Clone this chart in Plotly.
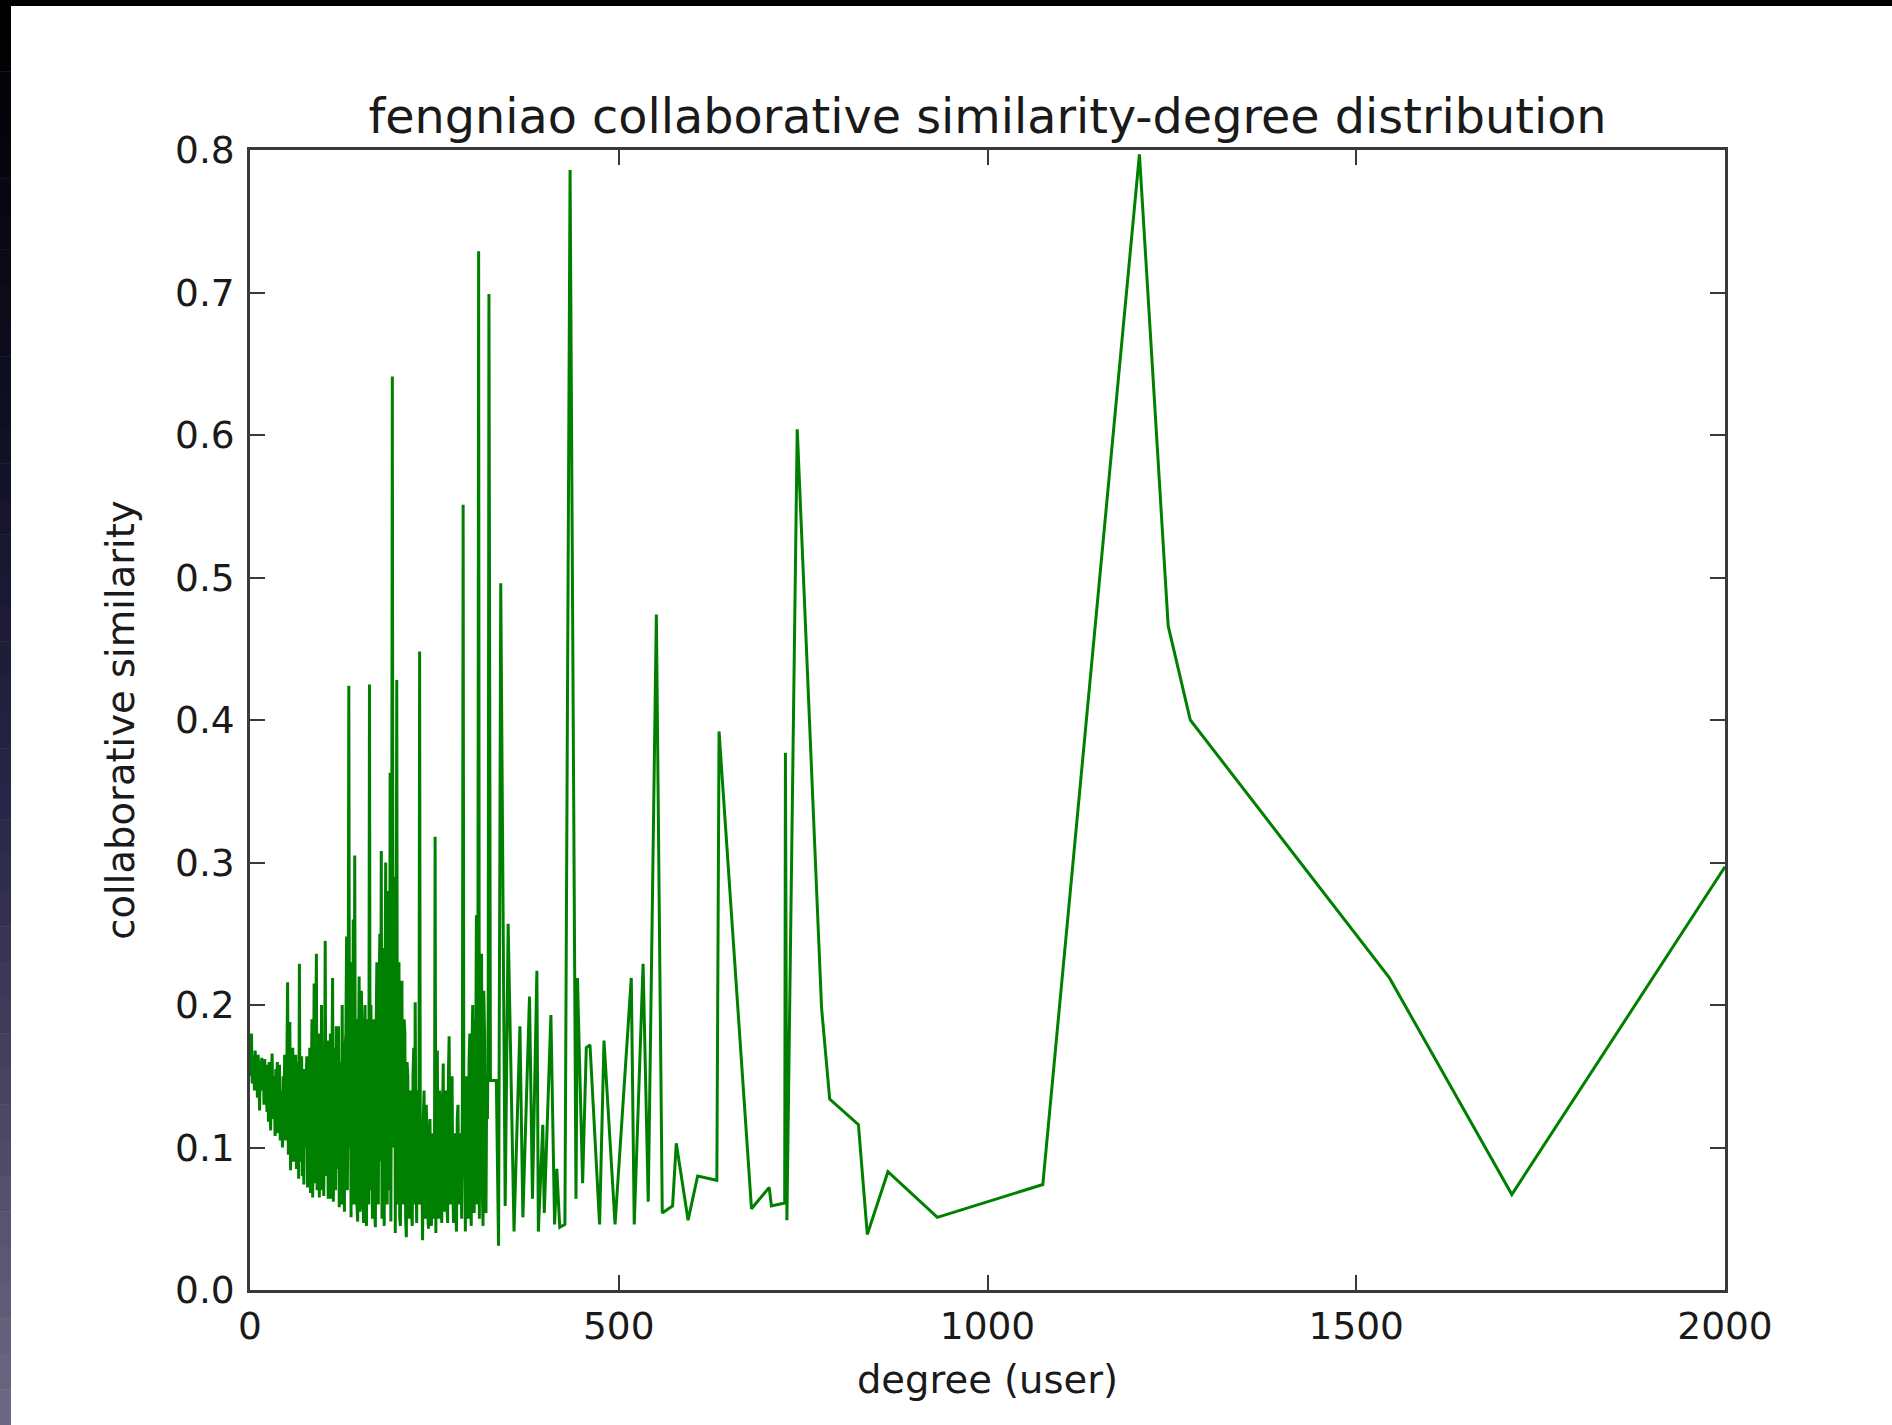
import plotly.graph_objects as go

# ---------------- data ----------------
# dense low-degree part (one value per degree)
dense_degree = [
    0, 1, 2, 3, 4, 5, 6, 7, 8, 9,
    10, 11, 12, 13, 14, 15, 16, 17, 18, 19,
    20, 21, 22, 23, 24, 25, 26, 27, 28, 29,
    30, 31, 32, 33, 34, 35, 36, 37, 38, 39,
    40, 41, 42, 43, 44, 45, 46, 47, 48, 49,
    50, 51, 52, 53, 54, 55, 56, 57, 58, 59,
    60, 61, 62, 63, 64, 65, 66, 67, 68, 69,
    70, 71, 72, 73, 74, 75, 76, 77, 78, 79,
    80, 81, 82, 83, 84, 85, 86, 87, 88, 89,
    90, 91, 92, 93, 94, 95, 96, 97, 98, 99,
    100, 101, 102, 103, 104, 105, 106, 107, 108, 109,
    110, 111, 112, 113, 114, 115, 116, 117, 118, 119,
    120, 121, 122, 123, 124, 125, 126, 127, 128, 129,
    130, 131, 132, 133, 134, 135, 136, 137, 138, 139,
    140, 141, 142, 143, 144, 145, 146, 147, 148, 149,
    150, 151, 152, 153, 154, 155, 156, 157, 158, 159,
    160, 161, 162, 163, 164, 165, 166, 167, 168, 169,
    170, 171, 172, 173, 174, 175, 176, 177, 178, 179,
    180, 181, 182, 183, 184, 185, 186, 187, 188, 189,
    190, 191, 192, 193, 194, 195, 196, 197, 198, 199,
    200, 201, 202, 203, 204, 205, 206, 207, 208, 209,
    210, 211, 212, 213, 214, 215, 216, 217, 218, 219,
    220, 221, 222, 223, 224, 225, 226, 227, 228, 229,
    230, 231, 232, 233, 234, 235, 236, 237, 238, 239,
    240, 241, 242, 243, 244, 245, 246, 247, 248, 249,
    250, 251, 252, 253, 254, 255, 256, 257, 258, 259,
    260, 261, 262, 263, 264, 265, 266, 267, 268, 269,
    270, 271, 272, 273, 274, 275, 276, 277, 278, 279,
    280, 281, 282, 283, 284, 285, 286, 287, 288, 289,
    290, 291, 292, 293, 294, 295, 296, 297, 298, 299,
    300, 301, 302, 303, 304, 305, 306, 307, 308, 309,
    310, 311, 312, 313, 314, 315, 316, 317, 318, 319,
    320, 321, 322, 323,
]
dense_similarity = [
    0.175, 0.150, 0.180, 0.145, 0.165, 0.160, 0.140, 0.168, 0.150, 0.162,
    0.135, 0.165, 0.155, 0.126, 0.160, 0.150, 0.163, 0.140, 0.158, 0.130,
    0.162, 0.140, 0.150, 0.125, 0.158, 0.118, 0.160, 0.135, 0.112, 0.150,
    0.166, 0.120, 0.150, 0.140, 0.108, 0.155, 0.125, 0.160, 0.110, 0.145,
    0.158, 0.105, 0.140, 0.130, 0.100, 0.150, 0.120, 0.165, 0.105, 0.140,
    0.160, 0.216, 0.095, 0.150, 0.188, 0.084, 0.140, 0.110, 0.170, 0.090,
    0.150, 0.100, 0.165, 0.085, 0.130, 0.160, 0.078, 0.229, 0.090, 0.140,
    0.164, 0.080, 0.120, 0.074, 0.155, 0.100, 0.140, 0.164, 0.072, 0.150,
    0.090, 0.170, 0.068, 0.130, 0.190, 0.065, 0.140, 0.215, 0.075, 0.160,
    0.236, 0.070, 0.130, 0.180, 0.065, 0.150, 0.090, 0.200, 0.070, 0.160,
    0.066, 0.130, 0.245, 0.080, 0.150, 0.175, 0.064, 0.140, 0.090, 0.180,
    0.064, 0.150, 0.219, 0.062, 0.120, 0.170, 0.070, 0.185, 0.085, 0.150,
    0.185, 0.058, 0.130, 0.160, 0.060, 0.200, 0.090, 0.150, 0.055, 0.170,
    0.180, 0.248, 0.070, 0.150, 0.424, 0.100, 0.200, 0.051, 0.230, 0.080,
    0.260, 0.060, 0.305, 0.090, 0.190, 0.060, 0.048, 0.160, 0.220, 0.055,
    0.060, 0.210, 0.180, 0.070, 0.047, 0.150, 0.200, 0.060, 0.045, 0.190,
    0.150, 0.060, 0.425, 0.070, 0.200, 0.120, 0.050, 0.160, 0.190, 0.055,
    0.044, 0.180, 0.230, 0.070, 0.060, 0.200, 0.250, 0.090, 0.308, 0.050,
    0.240, 0.100, 0.045, 0.200, 0.300, 0.080, 0.060, 0.260, 0.280, 0.070,
    0.363, 0.048, 0.200, 0.641, 0.100, 0.240, 0.290, 0.040, 0.180, 0.428,
    0.060, 0.200, 0.230, 0.050, 0.045, 0.180, 0.217, 0.060, 0.070, 0.190,
    0.180, 0.050, 0.037, 0.160, 0.150, 0.060, 0.050, 0.140, 0.125, 0.055,
    0.045, 0.150, 0.170, 0.060, 0.202, 0.090, 0.047, 0.130, 0.140, 0.060,
    0.448, 0.060, 0.110, 0.080, 0.035, 0.120, 0.140, 0.060, 0.050, 0.130,
    0.110, 0.055, 0.043, 0.100, 0.120, 0.060, 0.045, 0.110, 0.100, 0.050,
    0.060, 0.318, 0.040, 0.120, 0.168, 0.070, 0.050, 0.140, 0.130, 0.060,
    0.047, 0.120, 0.159, 0.070, 0.055, 0.140, 0.120, 0.060, 0.047, 0.150,
    0.178, 0.080, 0.060, 0.130, 0.150, 0.070, 0.047, 0.110, 0.100, 0.055,
    0.041, 0.120, 0.130, 0.070, 0.060, 0.110, 0.090, 0.050, 0.140, 0.551,
    0.079, 0.120, 0.041, 0.100, 0.150, 0.060, 0.050, 0.160, 0.180, 0.070,
    0.045, 0.170, 0.200, 0.080, 0.054, 0.190, 0.150, 0.263, 0.060, 0.200,
    0.729, 0.050, 0.200, 0.150, 0.236, 0.070, 0.045, 0.210, 0.180, 0.060,
    0.054, 0.150, 0.120, 0.200,
]

# sparse high-degree part
sparse_degree = [324, 326, 334, 337, 340, 346, 350, 358, 366, 370,
                 379, 383, 389, 391, 397, 399, 408, 413, 416, 420,
                 427, 434, 442, 444, 451, 456, 461, 474, 480, 495,
                 517, 521, 533, 540, 551, 559, 573, 578, 594, 607,
                 633, 636, 680, 704, 707, 725, 726, 728, 742, 775,
                 786, 825, 837, 865, 932, 1075, 1206, 1245, 1275, 1545,
                 1711, 2000]
sparse_similarity = [0.699, 0.147, 0.147, 0.031, 0.496, 0.059, 0.257, 0.041, 0.185, 0.051,
                     0.206, 0.064, 0.224, 0.041, 0.116, 0.054, 0.193, 0.046, 0.085, 0.044,
                     0.046, 0.786, 0.064, 0.219, 0.075, 0.170, 0.172, 0.046, 0.175, 0.046,
                     0.219, 0.046, 0.229, 0.062, 0.474, 0.054, 0.059, 0.103, 0.049, 0.080,
                     0.077, 0.392, 0.057, 0.072, 0.059, 0.061, 0.377, 0.049, 0.604, 0.198,
                     0.134, 0.116, 0.039, 0.083, 0.051, 0.074, 0.797, 0.466, 0.400, 0.219,
                     0.067, 0.297]

x_ticks = [0, 500, 1000, 1500, 2000]
x_tick_labels = ["0", "500", "1000", "1500", "2000"]
y_ticks = [0.0, 0.1, 0.2, 0.3, 0.4, 0.5, 0.6, 0.7, 0.8]
y_tick_labels = ["0.0", "0.1", "0.2", "0.3", "0.4", "0.5", "0.6", "0.7", "0.8"]

title_text = "fengniao collaborative similarity-degree distribution"
x_title = "degree (user)"
y_title = "collaborative similarity"

degree = dense_degree + sparse_degree
similarity = dense_similarity + sparse_similarity

# ---------------- figure ----------------
W, H = 1892, 1425
L, R, T, B = 250, 1725, 150, 1290
FONT = "DejaVu Sans"
TXT = "#1a1a1a"
AX = "#3a3a3a"

fig = go.Figure()
fig.add_trace(go.Scatter(
    x=degree, y=similarity, mode="lines",
    line=dict(color="#008000", width=3, simplify=False),
    showlegend=False, hoverinfo="x+y",
))

axis_common = dict(
    showline=True, linecolor=AX, linewidth=2.6, mirror="ticks",
    ticks="inside", ticklen=15, tickwidth=1.8, tickcolor=AX,
    showgrid=False, zeroline=False,
    tickfont=dict(family=FONT, size=37.5, color=TXT),
)

fig.update_layout(
    width=W, height=H,
    margin=dict(l=L, r=W - R, t=T, b=H - B, pad=0),
    paper_bgcolor="white", plot_bgcolor="white",
    title=dict(text=title_text, x=0.5, xref="paper", xanchor="center",
               y=1 - 116 / H, yref="container", yanchor="middle",
               font=dict(family=FONT, size=47.7, color=TXT)),
    xaxis=dict(range=[0, 2000], tickmode="array", tickvals=x_ticks, ticktext=x_tick_labels,
               title=dict(text=x_title, font=dict(family=FONT, size=38.5, color=TXT), standoff=20),
               ticklabelstandoff=1,
               **axis_common),
    yaxis=dict(range=[0, 0.8], tickmode="array", tickvals=y_ticks, ticktext=y_tick_labels,
               title=dict(text=y_title, font=dict(family=FONT, size=38.5, color=TXT), standoff=29),
               ticklabelstandoff=5,
               **axis_common),
)

# dark screenshot border: black strip on top, dark gradient strip on the left
def px_to_paper_x(px):
    return (px - L) / (R - L)

def px_to_paper_y(py):
    return (B - py) / (B - T)

shapes = [dict(type="rect", xref="paper", yref="paper",
               x0=px_to_paper_x(0), x1=px_to_paper_x(W),
               y0=px_to_paper_y(0), y1=px_to_paper_y(6),
               fillcolor="#000000", line=dict(width=0), layer="above")]
stops = [(0, (0, 0, 0)), (400, (14, 14, 34)), (800, (40, 38, 70)),
         (1100, (72, 69, 98)), (1425, (108, 106, 132))]
n = 40
for i in range(n):
    y0 = H * i / n
    y1 = H * (i + 1) / n
    ym = (y0 + y1) / 2
    for (a, ca), (b, cb) in zip(stops[:-1], stops[1:]):
        if a <= ym <= b:
            t = (ym - a) / (b - a)
            c = tuple(int(round(ca[k] + (cb[k] - ca[k]) * t)) for k in range(3))
            break
    shapes.append(dict(type="rect", xref="paper", yref="paper",
                       x0=px_to_paper_x(0), x1=px_to_paper_x(11),
                       y0=px_to_paper_y(y0), y1=px_to_paper_y(y1 + 0.5),
                       fillcolor="rgb(%d,%d,%d)" % c, line=dict(width=0), layer="above"))
fig.update_layout(shapes=shapes)

fig.write_html("out.html")
